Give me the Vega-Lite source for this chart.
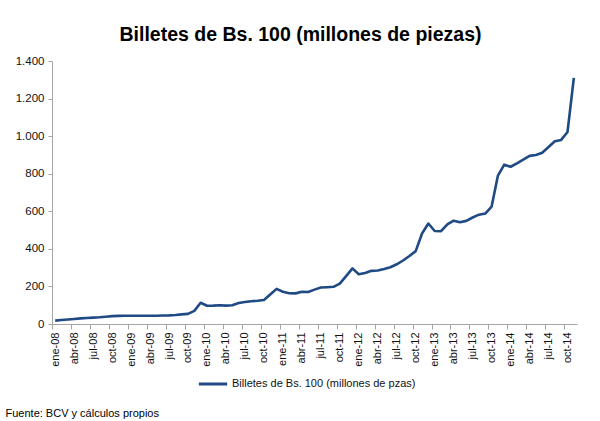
{
  "$schema": "https://vega.github.io/schema/vega-lite/v6.json",
  "autosize": "none",
  "width": 525,
  "height": 263,
  "padding": {"left": 52, "top": 61, "right": 23, "bottom": 97},
  "background": "white",
  "config": {
    "locale": {"number": {"decimal": ",", "thousands": ".", "grouping": [3], "currency": ["", ""]}},
    "view": {"stroke": null},
    "font": "Liberation Sans"
  },
  "title": {
    "text": "Billetes de Bs. 100 (millones de piezas)",
    "font": "Liberation Sans",
    "fontSize": 19.5,
    "fontWeight": "bold",
    "color": "#000000",
    "anchor": "middle",
    "dx": -14,
    "dy": 24,
    "offset": 19,
    "baseline": "alphabetic"
  },
  "data": {
    "values": [
      {"mes": "ene-08", "i": 0, "valor": 18}, {"mes": "feb-08", "i": 1, "valor": 21}, {"mes": "mar-08", "i": 2, "valor": 24}, {"mes": "abr-08", "i": 3, "valor": 27}, {"mes": "may-08", "i": 4, "valor": 30}, {"mes": "jun-08", "i": 5, "valor": 32}, {"mes": "jul-08", "i": 6, "valor": 34}, {"mes": "ago-08", "i": 7, "valor": 36}, {"mes": "sep-08", "i": 8, "valor": 39}, {"mes": "oct-08", "i": 9, "valor": 42}, {"mes": "nov-08", "i": 10, "valor": 43}, {"mes": "dic-08", "i": 11, "valor": 44},
      {"mes": "ene-09", "i": 12, "valor": 44}, {"mes": "feb-09", "i": 13, "valor": 44}, {"mes": "mar-09", "i": 14, "valor": 44}, {"mes": "abr-09", "i": 15, "valor": 44}, {"mes": "may-09", "i": 16, "valor": 44}, {"mes": "jun-09", "i": 17, "valor": 45}, {"mes": "jul-09", "i": 18, "valor": 46}, {"mes": "ago-09", "i": 19, "valor": 48}, {"mes": "sep-09", "i": 20, "valor": 51}, {"mes": "oct-09", "i": 21, "valor": 54}, {"mes": "nov-09", "i": 22, "valor": 70}, {"mes": "dic-09", "i": 23, "valor": 113},
      {"mes": "ene-10", "i": 24, "valor": 97}, {"mes": "feb-10", "i": 25, "valor": 98}, {"mes": "mar-10", "i": 26, "valor": 100}, {"mes": "abr-10", "i": 27, "valor": 98}, {"mes": "may-10", "i": 28, "valor": 100}, {"mes": "jun-10", "i": 29, "valor": 112}, {"mes": "jul-10", "i": 30, "valor": 117}, {"mes": "ago-10", "i": 31, "valor": 121}, {"mes": "sep-10", "i": 32, "valor": 124}, {"mes": "oct-10", "i": 33, "valor": 128}, {"mes": "nov-10", "i": 34, "valor": 157}, {"mes": "dic-10", "i": 35, "valor": 187},
      {"mes": "ene-11", "i": 36, "valor": 172}, {"mes": "feb-11", "i": 37, "valor": 164}, {"mes": "mar-11", "i": 38, "valor": 163}, {"mes": "abr-11", "i": 39, "valor": 172}, {"mes": "may-11", "i": 40, "valor": 170}, {"mes": "jun-11", "i": 41, "valor": 183}, {"mes": "jul-11", "i": 42, "valor": 194}, {"mes": "ago-11", "i": 43, "valor": 196}, {"mes": "sep-11", "i": 44, "valor": 198}, {"mes": "oct-11", "i": 45, "valor": 215}, {"mes": "nov-11", "i": 46, "valor": 255}, {"mes": "dic-11", "i": 47, "valor": 296},
      {"mes": "ene-12", "i": 48, "valor": 265}, {"mes": "feb-12", "i": 49, "valor": 271}, {"mes": "mar-12", "i": 50, "valor": 283}, {"mes": "abr-12", "i": 51, "valor": 285}, {"mes": "may-12", "i": 52, "valor": 293}, {"mes": "jun-12", "i": 53, "valor": 302}, {"mes": "jul-12", "i": 54, "valor": 318}, {"mes": "ago-12", "i": 55, "valor": 338}, {"mes": "sep-12", "i": 56, "valor": 362}, {"mes": "oct-12", "i": 57, "valor": 388}, {"mes": "nov-12", "i": 58, "valor": 482}, {"mes": "dic-12", "i": 59, "valor": 535},
      {"mes": "ene-13", "i": 60, "valor": 495}, {"mes": "feb-13", "i": 61, "valor": 494}, {"mes": "mar-13", "i": 62, "valor": 530}, {"mes": "abr-13", "i": 63, "valor": 550}, {"mes": "may-13", "i": 64, "valor": 542}, {"mes": "jun-13", "i": 65, "valor": 549}, {"mes": "jul-13", "i": 66, "valor": 567}, {"mes": "ago-13", "i": 67, "valor": 582}, {"mes": "sep-13", "i": 68, "valor": 588}, {"mes": "oct-13", "i": 69, "valor": 625}, {"mes": "nov-13", "i": 70, "valor": 790}, {"mes": "dic-13", "i": 71, "valor": 848},
      {"mes": "ene-14", "i": 72, "valor": 837}, {"mes": "feb-14", "i": 73, "valor": 855}, {"mes": "mar-14", "i": 74, "valor": 875}, {"mes": "abr-14", "i": 75, "valor": 895}, {"mes": "may-14", "i": 76, "valor": 900}, {"mes": "jun-14", "i": 77, "valor": 912}, {"mes": "jul-14", "i": 78, "valor": 942}, {"mes": "ago-14", "i": 79, "valor": 973}, {"mes": "sep-14", "i": 80, "valor": 980}, {"mes": "oct-14", "i": 81, "valor": 1022}, {"mes": "nov-14", "i": 82, "valor": 1310}
    ]
  },
  "transform": [{"calculate": "'Billetes de Bs. 100 (millones de pzas)'", "as": "serie"}],
  "mark": {"type": "line", "strokeWidth": 2.6, "strokeJoin": "round"},
  "encoding": {
    "x": {
      "field": "mes",
      "type": "ordinal",
      "sort": {"field": "i"},
      "scale": {"type": "point", "padding": 0.5},
      "axis": {
        "values": ["ene-08", "abr-08", "jul-08", "oct-08", "ene-09", "abr-09", "jul-09", "oct-09", "ene-10", "abr-10", "jul-10", "oct-10", "ene-11", "abr-11", "jul-11", "oct-11", "ene-12", "abr-12", "jul-12", "oct-12", "ene-13", "abr-13", "jul-13", "oct-13", "ene-14", "abr-14", "jul-14", "oct-14"],
        "labelAngle": -90,
        "labelFont": "Liberation Sans",
        "labelFontSize": 11,
        "labelColor": "#111111",
        "labelPadding": 3,
        "tickOffset": -3.16,
        "labelOffset": 3.16,
        "tickSize": 5,
        "tickColor": "#a6a6a6",
        "domainColor": "#a6a6a6",
        "grid": false,
        "title": "Fuente: BCV y cálculos propios",
        "titleFont": "Liberation Sans",
        "titleFontSize": 11,
        "titleFontWeight": "normal",
        "titleColor": "#000000",
        "titleAnchor": "start",
        "titleAlign": "left",
        "titleBaseline": "alphabetic",
        "titleX": -47,
        "titleY": 92
      }
    },
    "y": {
      "field": "valor",
      "type": "quantitative",
      "scale": {"domain": [0, 1400], "nice": false},
      "axis": {
        "values": [0, 200, 400, 600, 800, 1000, 1200, 1400],
        "format": ",d",
        "labelFont": "Liberation Sans",
        "labelFontSize": 11.5,
        "labelColor": "#111111",
        "labelPadding": 4,
        "tickSize": 4,
        "tickColor": "#a6a6a6",
        "domainColor": "#a6a6a6",
        "grid": false,
        "title": null
      }
    },
    "color": {
      "field": "serie",
      "type": "nominal",
      "scale": {"range": ["#1F4A84"]},
      "legend": {
        "orient": "none",
        "legendX": 145,
        "legendY": 307,
        "title": null,
        "symbolType": "stroke",
        "symbolSize": 800,
        "symbolStrokeWidth": 3,
        "labelFont": "Liberation Sans",
        "labelFontSize": 11,
        "labelColor": "#111111",
        "labelOffset": 3,
        "labelLimit": 400
      }
    }
  }
}
